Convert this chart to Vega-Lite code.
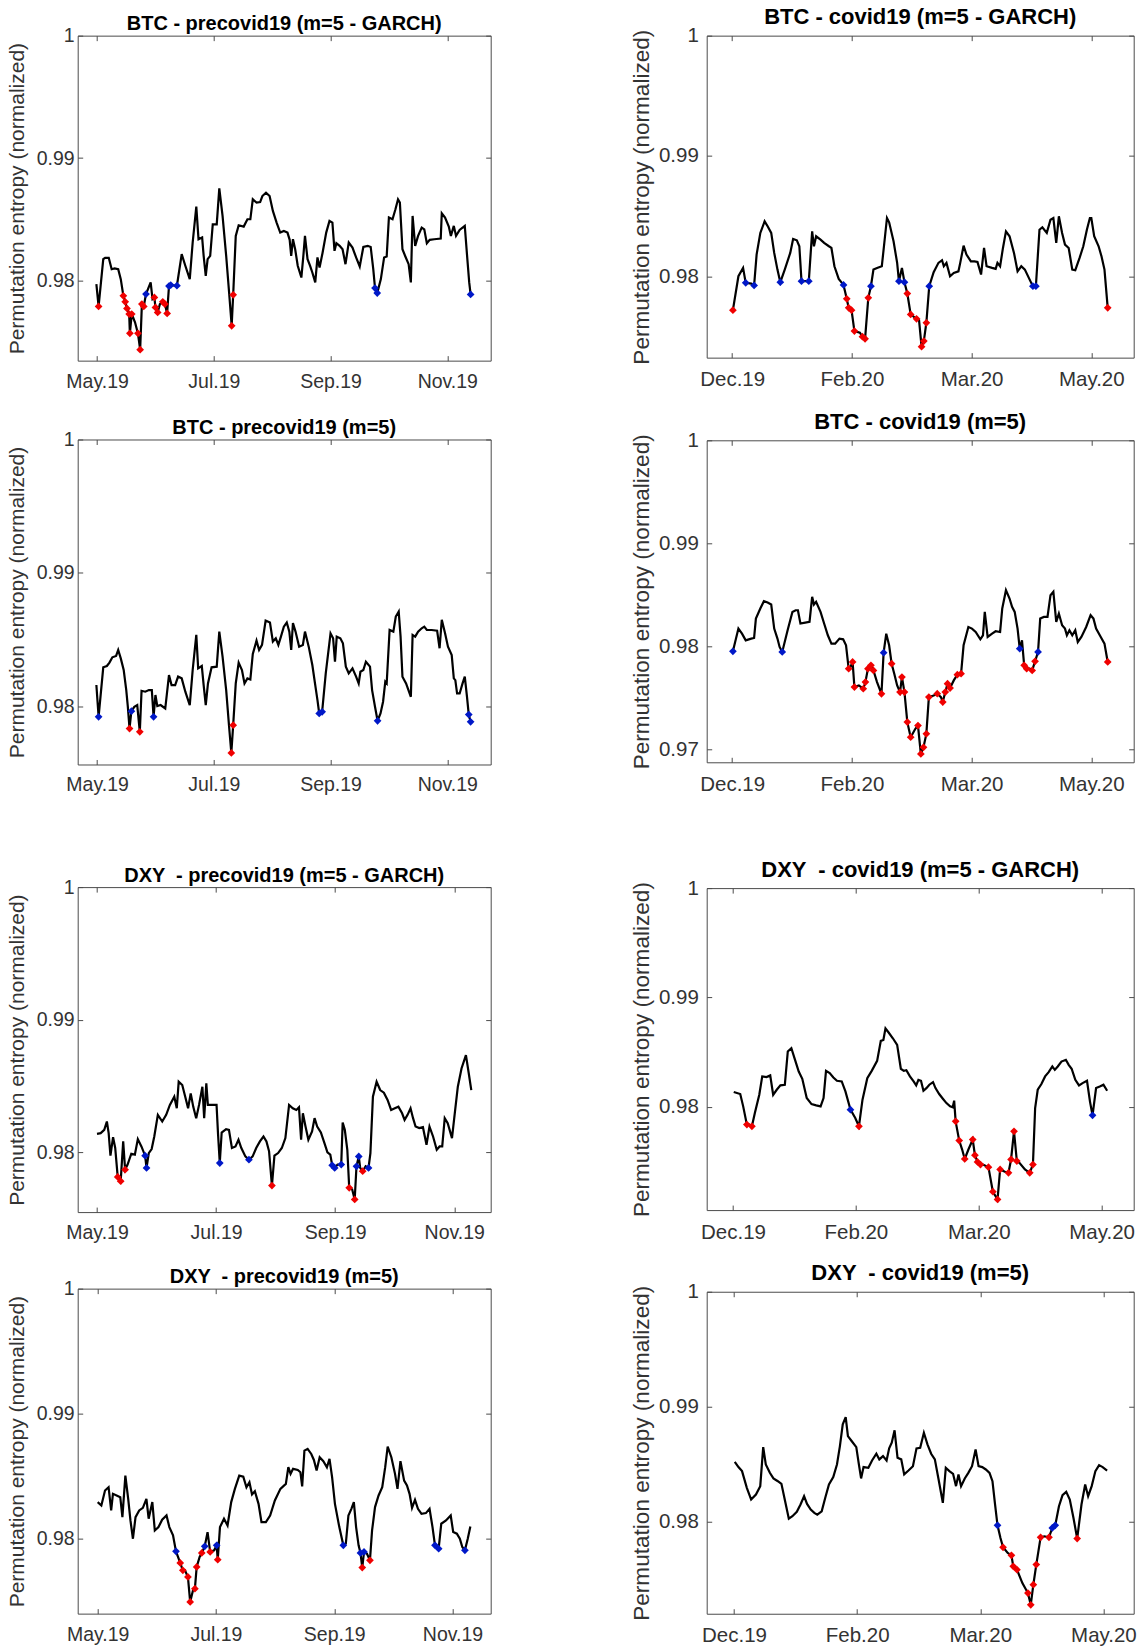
{
"$schema": "https://vega.github.io/schema/vega-lite/v6.json",
"background": "white",
"padding": {"left": 5.7, "top": 5.65, "right": 2, "bottom": 2},
"spacing": 137,
"datasets": {
"lines": [
{"p":1,"x":-0.006,"y":0.9797},{"p":1,"x":0.013,"y":0.97788},{"p":1,"x":0.053,"y":0.98174},{"p":1,"x":0.069,"y":0.98185},{"p":1,"x":0.1,"y":0.98185},{"p":1,"x":0.125,"y":0.98092},{"p":1,"x":0.15,"y":0.98098},{"p":1,"x":0.181,"y":0.98092},{"p":1,"x":0.203,"y":0.98011},{"p":1,"x":0.225,"y":0.97875},{"p":1,"x":0.241,"y":0.97826},{"p":1,"x":0.256,"y":0.97772},{"p":1,"x":0.275,"y":0.97726},{"p":1,"x":0.281,"y":0.97568},{"p":1,"x":0.297,"y":0.97726},{"p":1,"x":0.325,"y":0.97658},{"p":1,"x":0.35,"y":0.97568},{"p":1,"x":0.369,"y":0.97435},{"p":1,"x":0.384,"y":0.97807},{"p":1,"x":0.4,"y":0.97788},{"p":1,"x":0.419,"y":0.97889},{"p":1,"x":0.459,"y":0.97984},{"p":1,"x":0.475,"y":0.97848},{"p":1,"x":0.491,"y":0.97861},{"p":1,"x":0.5,"y":0.9778},{"p":1,"x":0.519,"y":0.97739},{"p":1,"x":0.538,"y":0.97807},{"p":1,"x":0.563,"y":0.97826},{"p":1,"x":0.581,"y":0.97807},{"p":1,"x":0.6,"y":0.97731},{"p":1,"x":0.616,"y":0.97954},{"p":1,"x":0.631,"y":0.97962},{"p":1,"x":0.684,"y":0.97957},{"p":1,"x":0.725,"y":0.98215},{"p":1,"x":0.756,"y":0.9812},{"p":1,"x":0.794,"y":0.98011},{"p":1,"x":0.819,"y":0.9831},{"p":1,"x":0.85,"y":0.98603},{"p":1,"x":0.869,"y":0.98337},{"p":1,"x":0.9,"y":0.98351},{"p":1,"x":0.913,"y":0.98201},{"p":1,"x":0.931,"y":0.98038},{"p":1,"x":0.947,"y":0.98174},{"p":1,"x":0.969,"y":0.98201},{"p":1,"x":0.991,"y":0.98459},{"p":1,"x":1.025,"y":0.98459},{"p":1,"x":1.047,"y":0.98753},{"p":1,"x":1.075,"y":0.98527},{"p":1,"x":1.106,"y":0.98201},{"p":1,"x":1.131,"y":0.97902},{"p":1,"x":1.153,"y":0.9763},{"p":1,"x":1.166,"y":0.97883},{"p":1,"x":1.188,"y":0.98364},{"p":1,"x":1.213,"y":0.98451},{"p":1,"x":1.256,"y":0.9844},{"p":1,"x":1.288,"y":0.985},{"p":1,"x":1.313,"y":0.985},{"p":1,"x":1.334,"y":0.98663},{"p":1,"x":1.366,"y":0.98636},{"p":1,"x":1.397,"y":0.98641},{"p":1,"x":1.416,"y":0.9869},{"p":1,"x":1.447,"y":0.98717},{"p":1,"x":1.478,"y":0.9869},{"p":1,"x":1.506,"y":0.98568},{"p":1,"x":1.538,"y":0.98473},{"p":1,"x":1.569,"y":0.98391},{"p":1,"x":1.6,"y":0.98405},{"p":1,"x":1.631,"y":0.98391},{"p":1,"x":1.65,"y":0.98332},{"p":1,"x":1.663,"y":0.98201},{"p":1,"x":1.678,"y":0.98337},{"p":1,"x":1.697,"y":0.98255},{"p":1,"x":1.719,"y":0.9812},{"p":1,"x":1.75,"y":0.98024},{"p":1,"x":1.766,"y":0.98188},{"p":1,"x":1.781,"y":0.98364},{"p":1,"x":1.803,"y":0.98174},{"p":1,"x":1.825,"y":0.9812},{"p":1,"x":1.844,"y":0.98065},{"p":1,"x":1.869,"y":0.97984},{"p":1,"x":1.888,"y":0.98188},{"p":1,"x":1.906,"y":0.98106},{"p":1,"x":1.931,"y":0.98223},{"p":1,"x":1.963,"y":0.98391},{"p":1,"x":1.991,"y":0.98486},{"p":1,"x":2.016,"y":0.98473},{"p":1,"x":2.034,"y":0.98242},{"p":1,"x":2.05,"y":0.98304},{"p":1,"x":2.078,"y":0.98283},{"p":1,"x":2.103,"y":0.98255},{"p":1,"x":2.128,"y":0.98133},{"p":1,"x":2.156,"y":0.9831},{"p":1,"x":2.188,"y":0.98269},{"p":1,"x":2.219,"y":0.98188},{"p":1,"x":2.25,"y":0.98114},{"p":1,"x":2.281,"y":0.98274},{"p":1,"x":2.319,"y":0.98283},{"p":1,"x":2.344,"y":0.98274},{"p":1,"x":2.366,"y":0.98092},{"p":1,"x":2.381,"y":0.97938},{"p":1,"x":2.4,"y":0.97897},{"p":1,"x":2.431,"y":0.98011},{"p":1,"x":2.459,"y":0.98188},{"p":1,"x":2.481,"y":0.98196},{"p":1,"x":2.5,"y":0.98514},{"p":1,"x":2.531,"y":0.985},{"p":1,"x":2.556,"y":0.98582},{"p":1,"x":2.578,"y":0.98663},{"p":1,"x":2.594,"y":0.98636},{"p":1,"x":2.616,"y":0.98255},{"p":1,"x":2.641,"y":0.98196},{"p":1,"x":2.669,"y":0.98133},{"p":1,"x":2.688,"y":0.97984},{"p":1,"x":2.703,"y":0.98527},{"p":1,"x":2.725,"y":0.98283},{"p":1,"x":2.75,"y":0.98364},{"p":1,"x":2.781,"y":0.98432},{"p":1,"x":2.803,"y":0.98418},{"p":1,"x":2.825,"y":0.98304},{"p":1,"x":2.85,"y":0.98332},{"p":1,"x":2.888,"y":0.98337},{"p":1,"x":2.944,"y":0.98342},{"p":1,"x":2.953,"y":0.98549},{"p":1,"x":2.981,"y":0.98514},{"p":1,"x":3.013,"y":0.9844},{"p":1,"x":3.031,"y":0.98364},{"p":1,"x":3.056,"y":0.98446},{"p":1,"x":3.075,"y":0.98364},{"p":1,"x":3.106,"y":0.98413},{"p":1,"x":3.15,"y":0.98446},{"p":1,"x":3.172,"y":0.98174},{"p":1,"x":3.188,"y":0.97984},{"p":1,"x":3.2,"y":0.97886},
{"p":2,"x":0.006,"y":0.97718},{"p":2,"x":0.052,"y":0.98},{"p":2,"x":0.091,"y":0.98069},{"p":2,"x":0.113,"y":0.97945},{"p":2,"x":0.159,"y":0.97939},{"p":2,"x":0.183,"y":0.97923},{"p":2,"x":0.204,"y":0.9818},{"p":2,"x":0.235,"y":0.9836},{"p":2,"x":0.271,"y":0.98456},{"p":2,"x":0.296,"y":0.98415},{"p":2,"x":0.326,"y":0.9836},{"p":2,"x":0.351,"y":0.98194},{"p":2,"x":0.378,"y":0.98055},{"p":2,"x":0.402,"y":0.9795},{"p":2,"x":0.439,"y":0.98055},{"p":2,"x":0.485,"y":0.98194},{"p":2,"x":0.509,"y":0.9831},{"p":2,"x":0.54,"y":0.98299},{"p":2,"x":0.561,"y":0.98249},{"p":2,"x":0.579,"y":0.97959},{"p":2,"x":0.616,"y":0.97959},{"p":2,"x":0.64,"y":0.97959},{"p":2,"x":0.668,"y":0.98373},{"p":2,"x":0.683,"y":0.98249},{"p":2,"x":0.701,"y":0.98332},{"p":2,"x":0.738,"y":0.98304},{"p":2,"x":0.768,"y":0.98277},{"p":2,"x":0.808,"y":0.98249},{"p":2,"x":0.829,"y":0.98235},{"p":2,"x":0.854,"y":0.98083},{"p":2,"x":0.89,"y":0.97978},{"p":2,"x":0.93,"y":0.97928},{"p":2,"x":0.957,"y":0.97812},{"p":2,"x":0.973,"y":0.97737},{"p":2,"x":0.997,"y":0.97718},{"p":2,"x":1.021,"y":0.97544},{"p":2,"x":1.067,"y":0.9753},{"p":2,"x":1.088,"y":0.97497},{"p":2,"x":1.11,"y":0.9748},{"p":2,"x":1.137,"y":0.9782},{"p":2,"x":1.159,"y":0.97917},{"p":2,"x":1.18,"y":0.98055},{"p":2,"x":1.21,"y":0.98069},{"p":2,"x":1.25,"y":0.98083},{"p":2,"x":1.293,"y":0.98484},{"p":2,"x":1.311,"y":0.98448},{"p":2,"x":1.348,"y":0.9829},{"p":2,"x":1.378,"y":0.98111},{"p":2,"x":1.393,"y":0.97959},{"p":2,"x":1.418,"y":0.98069},{"p":2,"x":1.439,"y":0.9795},{"p":2,"x":1.463,"y":0.97856},{"p":2,"x":1.491,"y":0.97682},{"p":2,"x":1.54,"y":0.97646},{"p":2,"x":1.561,"y":0.97635},{"p":2,"x":1.582,"y":0.97414},{"p":2,"x":1.601,"y":0.97461},{"p":2,"x":1.622,"y":0.97613},{"p":2,"x":1.646,"y":0.97917},{"p":2,"x":1.683,"y":0.98033},{"p":2,"x":1.723,"y":0.98111},{"p":2,"x":1.753,"y":0.98133},{"p":2,"x":1.768,"y":0.98083},{"p":2,"x":1.79,"y":0.98111},{"p":2,"x":1.82,"y":0.98},{"p":2,"x":1.851,"y":0.98028},{"p":2,"x":1.89,"y":0.98041},{"p":2,"x":1.905,"y":0.98111},{"p":2,"x":1.933,"y":0.98254},{"p":2,"x":1.957,"y":0.9818},{"p":2,"x":1.994,"y":0.98124},{"p":2,"x":2.024,"y":0.98124},{"p":2,"x":2.049,"y":0.98119},{"p":2,"x":2.079,"y":0.98014},{"p":2,"x":2.104,"y":0.98235},{"p":2,"x":2.125,"y":0.98083},{"p":2,"x":2.171,"y":0.98069},{"p":2,"x":2.201,"y":0.98061},{"p":2,"x":2.216,"y":0.98111},{"p":2,"x":2.238,"y":0.98083},{"p":2,"x":2.262,"y":0.98235},{"p":2,"x":2.287,"y":0.98373},{"p":2,"x":2.317,"y":0.98332},{"p":2,"x":2.354,"y":0.98194},{"p":2,"x":2.384,"y":0.98041},{"p":2,"x":2.415,"y":0.98083},{"p":2,"x":2.445,"y":0.98055},{"p":2,"x":2.491,"y":0.97959},{"p":2,"x":2.512,"y":0.97917},{"p":2,"x":2.537,"y":0.97917},{"p":2,"x":2.567,"y":0.98387},{"p":2,"x":2.591,"y":0.98407},{"p":2,"x":2.628,"y":0.9836},{"p":2,"x":2.659,"y":0.9847},{"p":2,"x":2.683,"y":0.98484},{"p":2,"x":2.707,"y":0.98277},{"p":2,"x":2.729,"y":0.98498},{"p":2,"x":2.756,"y":0.9836},{"p":2,"x":2.78,"y":0.98263},{"p":2,"x":2.811,"y":0.98235},{"p":2,"x":2.841,"y":0.98055},{"p":2,"x":2.866,"y":0.9805},{"p":2,"x":2.902,"y":0.98152},{"p":2,"x":2.933,"y":0.98249},{"p":2,"x":2.963,"y":0.98387},{"p":2,"x":2.988,"y":0.98484},{"p":2,"x":3.0,"y":0.98484},{"p":2,"x":3.024,"y":0.98332},{"p":2,"x":3.061,"y":0.98249},{"p":2,"x":3.085,"y":0.98166},{"p":2,"x":3.11,"y":0.98055},{"p":2,"x":3.137,"y":0.97737},
{"p":3,"x":-0.006,"y":0.98158},{"p":3,"x":0.013,"y":0.9792},{"p":3,"x":0.053,"y":0.98291},{"p":3,"x":0.084,"y":0.98301},{"p":3,"x":0.106,"y":0.98326},{"p":3,"x":0.131,"y":0.98366},{"p":3,"x":0.163,"y":0.98376},{"p":3,"x":0.181,"y":0.98421},{"p":3,"x":0.203,"y":0.98358},{"p":3,"x":0.228,"y":0.98271},{"p":3,"x":0.25,"y":0.9812},{"p":3,"x":0.263,"y":0.98},{"p":3,"x":0.278,"y":0.97832},{"p":3,"x":0.294,"y":0.97962},{"p":3,"x":0.319,"y":0.97995},{"p":3,"x":0.344,"y":0.98008},{"p":3,"x":0.366,"y":0.97807},{"p":3,"x":0.381,"y":0.98115},{"p":3,"x":0.413,"y":0.98108},{"p":3,"x":0.444,"y":0.9812},{"p":3,"x":0.469,"y":0.9812},{"p":3,"x":0.484,"y":0.9792},{"p":3,"x":0.5,"y":0.98083},{"p":3,"x":0.516,"y":0.98},{"p":3,"x":0.544,"y":0.98008},{"p":3,"x":0.584,"y":0.97982},{"p":3,"x":0.616,"y":0.98233},{"p":3,"x":0.638,"y":0.98158},{"p":3,"x":0.669,"y":0.98158},{"p":3,"x":0.694,"y":0.98221},{"p":3,"x":0.725,"y":0.98208},{"p":3,"x":0.756,"y":0.98108},{"p":3,"x":0.794,"y":0.98008},{"p":3,"x":0.819,"y":0.98271},{"p":3,"x":0.85,"y":0.98534},{"p":3,"x":0.866,"y":0.98283},{"p":3,"x":0.897,"y":0.98301},{"p":3,"x":0.913,"y":0.98158},{"p":3,"x":0.931,"y":0.98008},{"p":3,"x":0.95,"y":0.9817},{"p":3,"x":0.981,"y":0.98291},{"p":3,"x":1.025,"y":0.98296},{"p":3,"x":1.047,"y":0.98559},{"p":3,"x":1.075,"y":0.98371},{"p":3,"x":1.106,"y":0.9812},{"p":3,"x":1.131,"y":0.97845},{"p":3,"x":1.15,"y":0.97649},{"p":3,"x":1.166,"y":0.97857},{"p":3,"x":1.188,"y":0.9817},{"p":3,"x":1.213,"y":0.98326},{"p":3,"x":1.241,"y":0.98271},{"p":3,"x":1.263,"y":0.9817},{"p":3,"x":1.288,"y":0.98208},{"p":3,"x":1.313,"y":0.982},{"p":3,"x":1.334,"y":0.98391},{"p":3,"x":1.366,"y":0.98491},{"p":3,"x":1.388,"y":0.98421},{"p":3,"x":1.413,"y":0.98459},{"p":3,"x":1.444,"y":0.98642},{"p":3,"x":1.481,"y":0.98627},{"p":3,"x":1.506,"y":0.98484},{"p":3,"x":1.531,"y":0.98509},{"p":3,"x":1.553,"y":0.98459},{"p":3,"x":1.575,"y":0.98521},{"p":3,"x":1.6,"y":0.98596},{"p":3,"x":1.625,"y":0.98627},{"p":3,"x":1.647,"y":0.98559},{"p":3,"x":1.663,"y":0.98421},{"p":3,"x":1.678,"y":0.98622},{"p":3,"x":1.7,"y":0.98559},{"p":3,"x":1.731,"y":0.98446},{"p":3,"x":1.763,"y":0.98459},{"p":3,"x":1.781,"y":0.98559},{"p":3,"x":1.813,"y":0.98446},{"p":3,"x":1.844,"y":0.98308},{"p":3,"x":1.869,"y":0.98158},{"p":3,"x":1.888,"y":0.98045},{"p":3,"x":1.903,"y":0.97945},{"p":3,"x":1.928,"y":0.97957},{"p":3,"x":1.959,"y":0.98246},{"p":3,"x":2.0,"y":0.98546},{"p":3,"x":2.022,"y":0.98509},{"p":3,"x":2.038,"y":0.98333},{"p":3,"x":2.053,"y":0.98521},{"p":3,"x":2.084,"y":0.98509},{"p":3,"x":2.106,"y":0.98471},{"p":3,"x":2.131,"y":0.98296},{"p":3,"x":2.156,"y":0.98246},{"p":3,"x":2.188,"y":0.98283},{"p":3,"x":2.219,"y":0.98221},{"p":3,"x":2.241,"y":0.9817},{"p":3,"x":2.256,"y":0.98258},{"p":3,"x":2.281,"y":0.98271},{"p":3,"x":2.303,"y":0.98333},{"p":3,"x":2.338,"y":0.98296},{"p":3,"x":2.356,"y":0.9812},{"p":3,"x":2.381,"y":0.97995},{"p":3,"x":2.403,"y":0.9789},{"p":3,"x":2.428,"y":0.97945},{"p":3,"x":2.45,"y":0.98033},{"p":3,"x":2.469,"y":0.98183},{"p":3,"x":2.481,"y":0.9817},{"p":3,"x":2.506,"y":0.98571},{"p":3,"x":2.538,"y":0.98559},{"p":3,"x":2.559,"y":0.98672},{"p":3,"x":2.584,"y":0.98709},{"p":3,"x":2.6,"y":0.98521},{"p":3,"x":2.616,"y":0.98221},{"p":3,"x":2.647,"y":0.9817},{"p":3,"x":2.688,"y":0.9807},{"p":3,"x":2.703,"y":0.98534},{"p":3,"x":2.725,"y":0.98521},{"p":3,"x":2.75,"y":0.98559},{"p":3,"x":2.781,"y":0.98584},{"p":3,"x":2.803,"y":0.98596},{"p":3,"x":2.825,"y":0.98571},{"p":3,"x":2.866,"y":0.98571},{"p":3,"x":2.913,"y":0.98566},{"p":3,"x":2.934,"y":0.98434},{"p":3,"x":2.953,"y":0.98647},{"p":3,"x":2.981,"y":0.98546},{"p":3,"x":3.006,"y":0.98446},{"p":3,"x":3.038,"y":0.98383},{"p":3,"x":3.056,"y":0.98208},{"p":3,"x":3.069,"y":0.98195},{"p":3,"x":3.084,"y":0.98095},{"p":3,"x":3.106,"y":0.98095},{"p":3,"x":3.131,"y":0.9817},{"p":3,"x":3.15,"y":0.98221},{"p":3,"x":3.169,"y":0.9807},{"p":3,"x":3.184,"y":0.97937},{"p":3,"x":3.2,"y":0.97882},
{"p":4,"x":0.006,"y":0.97951},{"p":4,"x":0.052,"y":0.98172},{"p":4,"x":0.082,"y":0.98123},{"p":4,"x":0.113,"y":0.98058},{"p":4,"x":0.159,"y":0.98075},{"p":4,"x":0.183,"y":0.98081},{"p":4,"x":0.198,"y":0.98269},{"p":4,"x":0.235,"y":0.98367},{"p":4,"x":0.265,"y":0.98438},{"p":4,"x":0.296,"y":0.98425},{"p":4,"x":0.326,"y":0.98406},{"p":4,"x":0.351,"y":0.98172},{"p":4,"x":0.378,"y":0.98075},{"p":4,"x":0.396,"y":0.97994},{"p":4,"x":0.418,"y":0.97945},{"p":4,"x":0.463,"y":0.98156},{"p":4,"x":0.503,"y":0.98334},{"p":4,"x":0.53,"y":0.9835},{"p":4,"x":0.549,"y":0.9835},{"p":4,"x":0.57,"y":0.98221},{"p":4,"x":0.61,"y":0.9823},{"p":4,"x":0.646,"y":0.98237},{"p":4,"x":0.668,"y":0.9848},{"p":4,"x":0.683,"y":0.98406},{"p":4,"x":0.701,"y":0.98431},{"p":4,"x":0.738,"y":0.98334},{"p":4,"x":0.768,"y":0.98221},{"p":4,"x":0.799,"y":0.98107},{"p":4,"x":0.829,"y":0.98026},{"p":4,"x":0.86,"y":0.98026},{"p":4,"x":0.896,"y":0.98075},{"p":4,"x":0.927,"y":0.98068},{"p":4,"x":0.951,"y":0.9801},{"p":4,"x":0.973,"y":0.97783},{"p":4,"x":0.988,"y":0.97799},{"p":4,"x":1.006,"y":0.97848},{"p":4,"x":1.021,"y":0.97604},{"p":4,"x":1.058,"y":0.9762},{"p":4,"x":1.095,"y":0.97588},{"p":4,"x":1.113,"y":0.97653},{"p":4,"x":1.134,"y":0.97783},{"p":4,"x":1.159,"y":0.97815},{"p":4,"x":1.18,"y":0.97766},{"p":4,"x":1.21,"y":0.97653},{"p":4,"x":1.247,"y":0.97539},{"p":4,"x":1.265,"y":0.97938},{"p":4,"x":1.287,"y":0.98123},{"p":4,"x":1.311,"y":0.9801},{"p":4,"x":1.332,"y":0.97831},{"p":4,"x":1.354,"y":0.97734},{"p":4,"x":1.378,"y":0.9762},{"p":4,"x":1.402,"y":0.97556},{"p":4,"x":1.418,"y":0.97702},{"p":4,"x":1.439,"y":0.97556},{"p":4,"x":1.463,"y":0.97264},{"p":4,"x":1.491,"y":0.97118},{"p":4,"x":1.53,"y":0.97199},{"p":4,"x":1.552,"y":0.97231},{"p":4,"x":1.576,"y":0.96955},{"p":4,"x":1.598,"y":0.9702},{"p":4,"x":1.622,"y":0.9715},{"p":4,"x":1.643,"y":0.97507},{"p":4,"x":1.683,"y":0.97523},{"p":4,"x":1.713,"y":0.9754},{"p":4,"x":1.744,"y":0.97507},{"p":4,"x":1.759,"y":0.97459},{"p":4,"x":1.78,"y":0.97556},{"p":4,"x":1.799,"y":0.97637},{"p":4,"x":1.82,"y":0.97595},{"p":4,"x":1.851,"y":0.97669},{"p":4,"x":1.881,"y":0.97724},{"p":4,"x":1.912,"y":0.97734},{"p":4,"x":1.933,"y":0.9801},{"p":4,"x":1.973,"y":0.98188},{"p":4,"x":2.003,"y":0.98172},{"p":4,"x":2.034,"y":0.98139},{"p":4,"x":2.073,"y":0.98068},{"p":4,"x":2.095,"y":0.98107},{"p":4,"x":2.11,"y":0.98334},{"p":4,"x":2.134,"y":0.98091},{"p":4,"x":2.171,"y":0.98123},{"p":4,"x":2.201,"y":0.98146},{"p":4,"x":2.238,"y":0.98139},{"p":4,"x":2.256,"y":0.98367},{"p":4,"x":2.287,"y":0.98545},{"p":4,"x":2.317,"y":0.98464},{"p":4,"x":2.338,"y":0.98383},{"p":4,"x":2.36,"y":0.98334},{"p":4,"x":2.384,"y":0.98172},{"p":4,"x":2.402,"y":0.97977},{"p":4,"x":2.421,"y":0.98058},{"p":4,"x":2.439,"y":0.97815},{"p":4,"x":2.46,"y":0.97783},{"p":4,"x":2.485,"y":0.97783},{"p":4,"x":2.506,"y":0.97766},{"p":4,"x":2.53,"y":0.97854},{"p":4,"x":2.555,"y":0.97945},{"p":4,"x":2.573,"y":0.98269},{"p":4,"x":2.604,"y":0.98285},{"p":4,"x":2.634,"y":0.98285},{"p":4,"x":2.659,"y":0.98496},{"p":4,"x":2.683,"y":0.98529},{"p":4,"x":2.707,"y":0.98237},{"p":4,"x":2.729,"y":0.98318},{"p":4,"x":2.756,"y":0.98204},{"p":4,"x":2.78,"y":0.98172},{"p":4,"x":2.796,"y":0.98107},{"p":4,"x":2.817,"y":0.98156},{"p":4,"x":2.841,"y":0.98107},{"p":4,"x":2.866,"y":0.98156},{"p":4,"x":2.887,"y":0.98042},{"p":4,"x":2.917,"y":0.98091},{"p":4,"x":2.957,"y":0.98188},{"p":4,"x":2.994,"y":0.98302},{"p":4,"x":3.018,"y":0.98269},{"p":4,"x":3.04,"y":0.98172},{"p":4,"x":3.079,"y":0.98091},{"p":4,"x":3.11,"y":0.98026},{"p":4,"x":3.137,"y":0.97848},
{"p":5,"x":0.0,"y":0.9814},{"p":5,"x":0.031,"y":0.98145},{"p":5,"x":0.061,"y":0.9817},{"p":5,"x":0.083,"y":0.98233},{"p":5,"x":0.098,"y":0.98145},{"p":5,"x":0.113,"y":0.97975},{"p":5,"x":0.135,"y":0.98115},{"p":5,"x":0.153,"y":0.98033},{"p":5,"x":0.174,"y":0.97815},{"p":5,"x":0.199,"y":0.97783},{"p":5,"x":0.22,"y":0.98083},{"p":5,"x":0.236,"y":0.9787},{"p":5,"x":0.257,"y":0.97908},{"p":5,"x":0.288,"y":0.9799},{"p":5,"x":0.318,"y":0.97983},{"p":5,"x":0.343,"y":0.981},{"p":5,"x":0.373,"y":0.98045},{"p":5,"x":0.404,"y":0.97975},{"p":5,"x":0.416,"y":0.97883},{"p":5,"x":0.435,"y":0.97995},{"p":5,"x":0.459,"y":0.98025},{"p":5,"x":0.481,"y":0.9812},{"p":5,"x":0.511,"y":0.98283},{"p":5,"x":0.548,"y":0.98233},{"p":5,"x":0.581,"y":0.98283},{"p":5,"x":0.612,"y":0.98358},{"p":5,"x":0.649,"y":0.9842},{"p":5,"x":0.67,"y":0.98333},{"p":5,"x":0.686,"y":0.98533},{"p":5,"x":0.716,"y":0.98508},{"p":5,"x":0.741,"y":0.9842},{"p":5,"x":0.765,"y":0.98333},{"p":5,"x":0.787,"y":0.98445},{"p":5,"x":0.808,"y":0.98345},{"p":5,"x":0.833,"y":0.98258},{"p":5,"x":0.857,"y":0.98358},{"p":5,"x":0.885,"y":0.98495},{"p":5,"x":0.9,"y":0.98258},{"p":5,"x":0.918,"y":0.9852},{"p":5,"x":0.931,"y":0.98358},{"p":5,"x":0.97,"y":0.98358},{"p":5,"x":1.004,"y":0.98358},{"p":5,"x":1.016,"y":0.98145},{"p":5,"x":1.031,"y":0.9792},{"p":5,"x":1.047,"y":0.9815},{"p":5,"x":1.084,"y":0.98175},{"p":5,"x":1.108,"y":0.9817},{"p":5,"x":1.133,"y":0.98033},{"p":5,"x":1.163,"y":0.98045},{"p":5,"x":1.188,"y":0.98095},{"p":5,"x":1.212,"y":0.98033},{"p":5,"x":1.246,"y":0.9797},{"p":5,"x":1.276,"y":0.97945},{"p":5,"x":1.307,"y":0.9797},{"p":5,"x":1.337,"y":0.98033},{"p":5,"x":1.368,"y":0.98083},{"p":5,"x":1.398,"y":0.9812},{"p":5,"x":1.423,"y":0.98083},{"p":5,"x":1.445,"y":0.98008},{"p":5,"x":1.469,"y":0.9775},{"p":5,"x":1.49,"y":0.97975},{"p":5,"x":1.521,"y":0.97995},{"p":5,"x":1.552,"y":0.98033},{"p":5,"x":1.582,"y":0.98108},{"p":5,"x":1.613,"y":0.98358},{"p":5,"x":1.644,"y":0.98333},{"p":5,"x":1.674,"y":0.9832},{"p":5,"x":1.696,"y":0.9834},{"p":5,"x":1.714,"y":0.98095},{"p":5,"x":1.729,"y":0.98295},{"p":5,"x":1.751,"y":0.98195},{"p":5,"x":1.775,"y":0.98095},{"p":5,"x":1.806,"y":0.98158},{"p":5,"x":1.827,"y":0.98258},{"p":5,"x":1.849,"y":0.98195},{"p":5,"x":1.88,"y":0.9815},{"p":5,"x":1.91,"y":0.9807},{"p":5,"x":1.935,"y":0.98},{"p":5,"x":1.959,"y":0.97983},{"p":5,"x":1.975,"y":0.97903},{"p":5,"x":1.996,"y":0.97883},{"p":5,"x":2.02,"y":0.97908},{"p":5,"x":2.051,"y":0.97908},{"p":5,"x":2.063,"y":0.98225},{"p":5,"x":2.081,"y":0.9817},{"p":5,"x":2.102,"y":0.9802},{"p":5,"x":2.118,"y":0.97733},{"p":5,"x":2.143,"y":0.9772},{"p":5,"x":2.164,"y":0.97645},{"p":5,"x":2.179,"y":0.97895},{"p":5,"x":2.198,"y":0.9797},{"p":5,"x":2.21,"y":0.97883},{"p":5,"x":2.231,"y":0.97858},{"p":5,"x":2.256,"y":0.97895},{"p":5,"x":2.28,"y":0.97883},{"p":5,"x":2.296,"y":0.97995},{"p":5,"x":2.317,"y":0.9842},{"p":5,"x":2.348,"y":0.98533},{"p":5,"x":2.378,"y":0.9847},{"p":5,"x":2.409,"y":0.9845},{"p":5,"x":2.44,"y":0.98395},{"p":5,"x":2.47,"y":0.9832},{"p":5,"x":2.501,"y":0.98333},{"p":5,"x":2.531,"y":0.98345},{"p":5,"x":2.562,"y":0.98295},{"p":5,"x":2.583,"y":0.98245},{"p":5,"x":2.608,"y":0.98283},{"p":5,"x":2.633,"y":0.98333},{"p":5,"x":2.654,"y":0.98258},{"p":5,"x":2.675,"y":0.98195},{"p":5,"x":2.706,"y":0.98183},{"p":5,"x":2.737,"y":0.9819},{"p":5,"x":2.767,"y":0.98058},{"p":5,"x":2.792,"y":0.98195},{"p":5,"x":2.822,"y":0.9812},{"p":5,"x":2.853,"y":0.9802},{"p":5,"x":2.877,"y":0.98045},{"p":5,"x":2.899,"y":0.98045},{"p":5,"x":2.92,"y":0.98258},{"p":5,"x":2.945,"y":0.9822},{"p":5,"x":2.981,"y":0.98108},{"p":5,"x":3.006,"y":0.98308},{"p":5,"x":3.03,"y":0.98495},{"p":5,"x":3.061,"y":0.98633},{"p":5,"x":3.098,"y":0.98733},{"p":5,"x":3.122,"y":0.98595},{"p":5,"x":3.143,"y":0.9847},
{"p":6,"x":0.006,"y":0.98134},{"p":6,"x":0.059,"y":0.98116},{"p":6,"x":0.083,"y":0.98003},{"p":6,"x":0.113,"y":0.97836},{"p":6,"x":0.134,"y":0.97836},{"p":6,"x":0.154,"y":0.97821},{"p":6,"x":0.178,"y":0.97942},{"p":6,"x":0.214,"y":0.98109},{"p":6,"x":0.238,"y":0.98277},{"p":6,"x":0.273,"y":0.98271},{"p":6,"x":0.303,"y":0.98286},{"p":6,"x":0.327,"y":0.98109},{"p":6,"x":0.356,"y":0.98155},{"p":6,"x":0.386,"y":0.98195},{"p":6,"x":0.422,"y":0.98201},{"p":6,"x":0.446,"y":0.98505},{"p":6,"x":0.475,"y":0.98535},{"p":6,"x":0.505,"y":0.98429},{"p":6,"x":0.535,"y":0.98322},{"p":6,"x":0.564,"y":0.98255},{"p":6,"x":0.6,"y":0.98079},{"p":6,"x":0.639,"y":0.98024},{"p":6,"x":0.677,"y":0.98012},{"p":6,"x":0.713,"y":0.98003},{"p":6,"x":0.737,"y":0.98079},{"p":6,"x":0.757,"y":0.98328},{"p":6,"x":0.787,"y":0.98307},{"p":6,"x":0.817,"y":0.98267},{"p":6,"x":0.846,"y":0.98237},{"p":6,"x":0.885,"y":0.98231},{"p":6,"x":0.915,"y":0.9814},{"p":6,"x":0.956,"y":0.97973},{"p":6,"x":0.995,"y":0.97897},{"p":6,"x":1.025,"y":0.97821},{"p":6,"x":1.054,"y":0.98064},{"p":6,"x":1.093,"y":0.98261},{"p":6,"x":1.129,"y":0.98328},{"p":6,"x":1.173,"y":0.98419},{"p":6,"x":1.203,"y":0.98602},{"p":6,"x":1.224,"y":0.98611},{"p":6,"x":1.241,"y":0.98717},{"p":6,"x":1.265,"y":0.98681},{"p":6,"x":1.301,"y":0.98626},{"p":6,"x":1.336,"y":0.98565},{"p":6,"x":1.366,"y":0.98347},{"p":6,"x":1.39,"y":0.98328},{"p":6,"x":1.411,"y":0.98334},{"p":6,"x":1.44,"y":0.98277},{"p":6,"x":1.47,"y":0.98231},{"p":6,"x":1.491,"y":0.98195},{"p":6,"x":1.509,"y":0.98246},{"p":6,"x":1.53,"y":0.98237},{"p":6,"x":1.55,"y":0.98146},{"p":6,"x":1.574,"y":0.9817},{"p":6,"x":1.598,"y":0.98201},{"p":6,"x":1.628,"y":0.98225},{"p":6,"x":1.648,"y":0.9817},{"p":6,"x":1.678,"y":0.98116},{"p":6,"x":1.708,"y":0.98073},{"p":6,"x":1.737,"y":0.98033},{"p":6,"x":1.767,"y":0.98003},{"p":6,"x":1.788,"y":0.97994},{"p":6,"x":1.8,"y":0.98055},{"p":6,"x":1.812,"y":0.97866},{"p":6,"x":1.841,"y":0.9769},{"p":6,"x":1.865,"y":0.97608},{"p":6,"x":1.886,"y":0.97522},{"p":6,"x":1.916,"y":0.97608},{"p":6,"x":1.951,"y":0.97699},{"p":6,"x":1.969,"y":0.97556},{"p":6,"x":1.99,"y":0.97495},{"p":6,"x":2.014,"y":0.97471},{"p":6,"x":2.034,"y":0.97471},{"p":6,"x":2.079,"y":0.97447},{"p":6,"x":2.115,"y":0.97222},{"p":6,"x":2.153,"y":0.97152},{"p":6,"x":2.174,"y":0.97426},{"p":6,"x":2.213,"y":0.97404},{"p":6,"x":2.242,"y":0.97395},{"p":6,"x":2.263,"y":0.97517},{"p":6,"x":2.287,"y":0.97775},{"p":6,"x":2.31,"y":0.97502},{"p":6,"x":2.331,"y":0.97486},{"p":6,"x":2.376,"y":0.97426},{"p":6,"x":2.415,"y":0.97395},{"p":6,"x":2.441,"y":0.97471},{"p":6,"x":2.459,"y":0.97988},{"p":6,"x":2.48,"y":0.98155},{"p":6,"x":2.51,"y":0.98207},{"p":6,"x":2.54,"y":0.98277},{"p":6,"x":2.569,"y":0.98316},{"p":6,"x":2.599,"y":0.98368},{"p":6,"x":2.619,"y":0.98337},{"p":6,"x":2.643,"y":0.98368},{"p":6,"x":2.673,"y":0.98413},{"p":6,"x":2.709,"y":0.98429},{"p":6,"x":2.732,"y":0.98383},{"p":6,"x":2.756,"y":0.98347},{"p":6,"x":2.786,"y":0.98246},{"p":6,"x":2.816,"y":0.98195},{"p":6,"x":2.845,"y":0.98216},{"p":6,"x":2.881,"y":0.98237},{"p":6,"x":2.905,"y":0.98049},{"p":6,"x":2.926,"y":0.97921},{"p":6,"x":2.955,"y":0.9817},{"p":6,"x":2.985,"y":0.98185},{"p":6,"x":3.015,"y":0.98201},{"p":6,"x":3.045,"y":0.98146},
{"p":7,"x":0.0,"y":0.98293},{"p":7,"x":0.031,"y":0.98266},{"p":7,"x":0.062,"y":0.98386},{"p":7,"x":0.092,"y":0.98412},{"p":7,"x":0.114,"y":0.98226},{"p":7,"x":0.129,"y":0.98359},{"p":7,"x":0.16,"y":0.98346},{"p":7,"x":0.191,"y":0.98332},{"p":7,"x":0.209,"y":0.98173},{"p":7,"x":0.234,"y":0.98505},{"p":7,"x":0.258,"y":0.98319},{"p":7,"x":0.277,"y":0.98146},{"p":7,"x":0.298,"y":0.98},{"p":7,"x":0.32,"y":0.98173},{"p":7,"x":0.351,"y":0.98226},{"p":7,"x":0.382,"y":0.98247},{"p":7,"x":0.412,"y":0.98319},{"p":7,"x":0.431,"y":0.9816},{"p":7,"x":0.462,"y":0.98293},{"p":7,"x":0.483,"y":0.98066},{"p":7,"x":0.514,"y":0.98093},{"p":7,"x":0.545,"y":0.98152},{"p":7,"x":0.582,"y":0.98186},{"p":7,"x":0.606,"y":0.98093},{"p":7,"x":0.637,"y":0.98027},{"p":7,"x":0.662,"y":0.97899},{"p":7,"x":0.698,"y":0.97806},{"p":7,"x":0.72,"y":0.97747},{"p":7,"x":0.738,"y":0.97747},{"p":7,"x":0.763,"y":0.97694},{"p":7,"x":0.782,"y":0.97495},{"p":7,"x":0.806,"y":0.97588},{"p":7,"x":0.822,"y":0.97601},{"p":7,"x":0.837,"y":0.97774},{"p":7,"x":0.862,"y":0.97854},{"p":7,"x":0.88,"y":0.97886},{"p":7,"x":0.905,"y":0.97939},{"p":7,"x":0.929,"y":0.98053},{"p":7,"x":0.951,"y":0.97894},{"p":7,"x":0.985,"y":0.97907},{"p":7,"x":1.006,"y":0.97947},{"p":7,"x":1.015,"y":0.97832},{"p":7,"x":1.034,"y":0.98093},{"p":7,"x":1.068,"y":0.9816},{"p":7,"x":1.098,"y":0.98106},{"p":7,"x":1.129,"y":0.98293},{"p":7,"x":1.16,"y":0.98399},{"p":7,"x":1.197,"y":0.98505},{"p":7,"x":1.231,"y":0.98497},{"p":7,"x":1.258,"y":0.98412},{"p":7,"x":1.283,"y":0.98452},{"p":7,"x":1.305,"y":0.98354},{"p":7,"x":1.329,"y":0.9838},{"p":7,"x":1.36,"y":0.98279},{"p":7,"x":1.385,"y":0.98133},{"p":7,"x":1.422,"y":0.98133},{"p":7,"x":1.458,"y":0.98186},{"p":7,"x":1.498,"y":0.98306},{"p":7,"x":1.545,"y":0.98399},{"p":7,"x":1.591,"y":0.98439},{"p":7,"x":1.612,"y":0.98572},{"p":7,"x":1.631,"y":0.98519},{"p":7,"x":1.652,"y":0.98559},{"p":7,"x":1.692,"y":0.9855},{"p":7,"x":1.714,"y":0.98532},{"p":7,"x":1.729,"y":0.98418},{"p":7,"x":1.748,"y":0.98705},{"p":7,"x":1.775,"y":0.98718},{"p":7,"x":1.806,"y":0.98678},{"p":7,"x":1.828,"y":0.9863},{"p":7,"x":1.851,"y":0.98545},{"p":7,"x":1.877,"y":0.98652},{"p":7,"x":1.908,"y":0.9862},{"p":7,"x":1.938,"y":0.98572},{"p":7,"x":1.96,"y":0.98638},{"p":7,"x":1.982,"y":0.98492},{"p":7,"x":2.006,"y":0.98279},{"p":7,"x":2.043,"y":0.98093},{"p":7,"x":2.077,"y":0.97947},{"p":7,"x":2.098,"y":0.9796},{"p":7,"x":2.12,"y":0.98186},{"p":7,"x":2.145,"y":0.98239},{"p":7,"x":2.166,"y":0.98293},{"p":7,"x":2.185,"y":0.98093},{"p":7,"x":2.206,"y":0.97947},{"p":7,"x":2.222,"y":0.97886},{"p":7,"x":2.237,"y":0.97769},{"p":7,"x":2.252,"y":0.97894},{"p":7,"x":2.277,"y":0.9788},{"p":7,"x":2.302,"y":0.97827},{"p":7,"x":2.32,"y":0.98066},{"p":7,"x":2.345,"y":0.98253},{"p":7,"x":2.375,"y":0.98346},{"p":7,"x":2.406,"y":0.98412},{"p":7,"x":2.431,"y":0.98572},{"p":7,"x":2.452,"y":0.98737},{"p":7,"x":2.483,"y":0.98652},{"p":7,"x":2.514,"y":0.98519},{"p":7,"x":2.535,"y":0.98399},{"p":7,"x":2.56,"y":0.9862},{"p":7,"x":2.591,"y":0.98465},{"p":7,"x":2.615,"y":0.98426},{"p":7,"x":2.637,"y":0.98359},{"p":7,"x":2.658,"y":0.98247},{"p":7,"x":2.683,"y":0.98311},{"p":7,"x":2.708,"y":0.98239},{"p":7,"x":2.738,"y":0.98199},{"p":7,"x":2.775,"y":0.98205},{"p":7,"x":2.806,"y":0.98239},{"p":7,"x":2.831,"y":0.98093},{"p":7,"x":2.852,"y":0.97947},{"p":7,"x":2.883,"y":0.9792},{"p":7,"x":2.905,"y":0.9812},{"p":7,"x":2.945,"y":0.98146},{"p":7,"x":2.985,"y":0.98186},{"p":7,"x":3.006,"y":0.98053},{"p":7,"x":3.037,"y":0.9804},{"p":7,"x":3.062,"y":0.98},{"p":7,"x":3.083,"y":0.97934},{"p":7,"x":3.105,"y":0.97907},{"p":7,"x":3.129,"y":0.98},{"p":7,"x":3.151,"y":0.98098},
{"p":8,"x":0.006,"y":0.98518},{"p":8,"x":0.036,"y":0.98472},{"p":8,"x":0.065,"y":0.98437},{"p":8,"x":0.104,"y":0.98291},{"p":8,"x":0.139,"y":0.98189},{"p":8,"x":0.178,"y":0.98233},{"p":8,"x":0.213,"y":0.98306},{"p":8,"x":0.237,"y":0.98646},{"p":8,"x":0.258,"y":0.98495},{"p":8,"x":0.291,"y":0.98422},{"p":8,"x":0.32,"y":0.98373},{"p":8,"x":0.356,"y":0.98349},{"p":8,"x":0.385,"y":0.98326},{"p":8,"x":0.415,"y":0.98175},{"p":8,"x":0.445,"y":0.98023},{"p":8,"x":0.474,"y":0.98044},{"p":8,"x":0.51,"y":0.98082},{"p":8,"x":0.54,"y":0.98146},{"p":8,"x":0.569,"y":0.98218},{"p":8,"x":0.593,"y":0.98151},{"p":8,"x":0.623,"y":0.98102},{"p":8,"x":0.652,"y":0.98073},{"p":8,"x":0.676,"y":0.98058},{"p":8,"x":0.712,"y":0.98087},{"p":8,"x":0.741,"y":0.98204},{"p":8,"x":0.771,"y":0.9832},{"p":8,"x":0.806,"y":0.98384},{"p":8,"x":0.836,"y":0.98495},{"p":8,"x":0.86,"y":0.98655},{"p":8,"x":0.883,"y":0.98844},{"p":8,"x":0.907,"y":0.98908},{"p":8,"x":0.925,"y":0.98742},{"p":8,"x":0.955,"y":0.98699},{"p":8,"x":0.993,"y":0.98646},{"p":8,"x":1.014,"y":0.98495},{"p":8,"x":1.032,"y":0.98373},{"p":8,"x":1.052,"y":0.98472},{"p":8,"x":1.091,"y":0.98466},{"p":8,"x":1.121,"y":0.9853},{"p":8,"x":1.156,"y":0.98588},{"p":8,"x":1.18,"y":0.98539},{"p":8,"x":1.21,"y":0.98568},{"p":8,"x":1.239,"y":0.9853},{"p":8,"x":1.26,"y":0.98635},{"p":8,"x":1.281,"y":0.98684},{"p":8,"x":1.304,"y":0.98792},{"p":8,"x":1.328,"y":0.98553},{"p":8,"x":1.358,"y":0.98539},{"p":8,"x":1.382,"y":0.98408},{"p":8,"x":1.417,"y":0.98442},{"p":8,"x":1.453,"y":0.9848},{"p":8,"x":1.482,"y":0.98635},{"p":8,"x":1.512,"y":0.9864},{"p":8,"x":1.542,"y":0.98771},{"p":8,"x":1.571,"y":0.9867},{"p":8,"x":1.601,"y":0.98588},{"p":8,"x":1.631,"y":0.98539},{"p":8,"x":1.66,"y":0.98373},{"p":8,"x":1.696,"y":0.9816},{"p":8,"x":1.72,"y":0.98466},{"p":8,"x":1.749,"y":0.98437},{"p":8,"x":1.779,"y":0.98413},{"p":8,"x":1.803,"y":0.98306},{"p":8,"x":1.823,"y":0.98408},{"p":8,"x":1.844,"y":0.98306},{"p":8,"x":1.874,"y":0.98373},{"p":8,"x":1.903,"y":0.98422},{"p":8,"x":1.933,"y":0.9848},{"p":8,"x":1.962,"y":0.98626},{"p":8,"x":1.986,"y":0.9848},{"p":8,"x":2.016,"y":0.98472},{"p":8,"x":2.045,"y":0.98451},{"p":8,"x":2.075,"y":0.98422},{"p":8,"x":2.099,"y":0.98349},{"p":8,"x":2.12,"y":0.98146},{"p":8,"x":2.14,"y":0.97965},{"p":8,"x":2.164,"y":0.97854},{"p":8,"x":2.185,"y":0.97773},{"p":8,"x":2.223,"y":0.97723},{"p":8,"x":2.253,"y":0.97703},{"p":8,"x":2.268,"y":0.97607},{"p":8,"x":2.298,"y":0.97578},{"p":8,"x":2.342,"y":0.97461},{"p":8,"x":2.387,"y":0.97374},{"p":8,"x":2.41,"y":0.97272},{"p":8,"x":2.431,"y":0.97447},{"p":8,"x":2.455,"y":0.97622},{"p":8,"x":2.49,"y":0.9786},{"p":8,"x":2.52,"y":0.97869},{"p":8,"x":2.558,"y":0.9786},{"p":8,"x":2.585,"y":0.97942},{"p":8,"x":2.609,"y":0.97965},{"p":8,"x":2.639,"y":0.98131},{"p":8,"x":2.668,"y":0.98227},{"p":8,"x":2.698,"y":0.98256},{"p":8,"x":2.727,"y":0.98189},{"p":8,"x":2.757,"y":0.98029},{"p":8,"x":2.787,"y":0.97849},{"p":8,"x":2.822,"y":0.98146},{"p":8,"x":2.852,"y":0.9832},{"p":8,"x":2.876,"y":0.98218},{"p":8,"x":2.905,"y":0.98306},{"p":8,"x":2.935,"y":0.98437},{"p":8,"x":2.965,"y":0.98489},{"p":8,"x":2.994,"y":0.98472},{"p":8,"x":3.03,"y":0.98442}
],
"marks": [
{"p":1,"x":0.013,"y":0.97788,"c":"red"},{"p":1,"x":0.225,"y":0.97875,"c":"red"},{"p":1,"x":0.241,"y":0.97826,"c":"red"},{"p":1,"x":0.256,"y":0.97772,"c":"red"},{"p":1,"x":0.275,"y":0.97726,"c":"red"},{"p":1,"x":0.281,"y":0.97568,"c":"red"},{"p":1,"x":0.297,"y":0.97726,"c":"red"},{"p":1,"x":0.35,"y":0.97568,"c":"red"},{"p":1,"x":0.369,"y":0.97435,"c":"red"},{"p":1,"x":0.384,"y":0.97807,"c":"red"},{"p":1,"x":0.4,"y":0.97788,"c":"red"},{"p":1,"x":0.491,"y":0.97861,"c":"red"},{"p":1,"x":0.5,"y":0.9778,"c":"red"},{"p":1,"x":0.519,"y":0.97739,"c":"red"},{"p":1,"x":0.563,"y":0.97826,"c":"red"},{"p":1,"x":0.581,"y":0.97807,"c":"red"},{"p":1,"x":0.6,"y":0.97731,"c":"red"},{"p":1,"x":1.153,"y":0.9763,"c":"red"},{"p":1,"x":1.166,"y":0.97883,"c":"red"},
{"p":1,"x":0.419,"y":0.97889,"c":"blue"},{"p":1,"x":0.616,"y":0.97954,"c":"blue"},{"p":1,"x":0.631,"y":0.97962,"c":"blue"},{"p":1,"x":0.684,"y":0.97957,"c":"blue"},{"p":1,"x":2.381,"y":0.97938,"c":"blue"},{"p":1,"x":2.4,"y":0.97897,"c":"blue"},{"p":1,"x":3.2,"y":0.97886,"c":"blue"},
{"p":2,"x":0.006,"y":0.97718,"c":"red"},{"p":2,"x":0.957,"y":0.97812,"c":"red"},{"p":2,"x":0.973,"y":0.97737,"c":"red"},{"p":2,"x":0.997,"y":0.97718,"c":"red"},{"p":2,"x":1.021,"y":0.97544,"c":"red"},{"p":2,"x":1.088,"y":0.97497,"c":"red"},{"p":2,"x":1.11,"y":0.9748,"c":"red"},{"p":2,"x":1.137,"y":0.9782,"c":"red"},{"p":2,"x":1.463,"y":0.97856,"c":"red"},{"p":2,"x":1.491,"y":0.97682,"c":"red"},{"p":2,"x":1.54,"y":0.97646,"c":"red"},{"p":2,"x":1.582,"y":0.97414,"c":"red"},{"p":2,"x":1.601,"y":0.97461,"c":"red"},{"p":2,"x":1.622,"y":0.97613,"c":"red"},{"p":2,"x":3.137,"y":0.97737,"c":"red"},
{"p":2,"x":0.113,"y":0.97945,"c":"blue"},{"p":2,"x":0.183,"y":0.97923,"c":"blue"},{"p":2,"x":0.402,"y":0.9795,"c":"blue"},{"p":2,"x":0.579,"y":0.97959,"c":"blue"},{"p":2,"x":0.64,"y":0.97959,"c":"blue"},{"p":2,"x":0.93,"y":0.97928,"c":"blue"},{"p":2,"x":1.159,"y":0.97917,"c":"blue"},{"p":2,"x":1.393,"y":0.97959,"c":"blue"},{"p":2,"x":1.439,"y":0.9795,"c":"blue"},{"p":2,"x":1.646,"y":0.97917,"c":"blue"},{"p":2,"x":2.512,"y":0.97917,"c":"blue"},{"p":2,"x":2.537,"y":0.97917,"c":"blue"},
{"p":3,"x":0.013,"y":0.9792,"c":"blue"},{"p":3,"x":0.294,"y":0.97962,"c":"blue"},{"p":3,"x":0.484,"y":0.9792,"c":"blue"},{"p":3,"x":1.903,"y":0.97945,"c":"blue"},{"p":3,"x":1.928,"y":0.97957,"c":"blue"},{"p":3,"x":2.403,"y":0.9789,"c":"blue"},{"p":3,"x":3.184,"y":0.97937,"c":"blue"},{"p":3,"x":3.2,"y":0.97882,"c":"blue"},
{"p":3,"x":0.278,"y":0.97832,"c":"red"},{"p":3,"x":0.366,"y":0.97807,"c":"red"},{"p":3,"x":1.15,"y":0.97649,"c":"red"},{"p":3,"x":1.166,"y":0.97857,"c":"red"},
{"p":4,"x":0.006,"y":0.97951,"c":"blue"},{"p":4,"x":0.418,"y":0.97945,"c":"blue"},{"p":4,"x":1.265,"y":0.97938,"c":"blue"},{"p":4,"x":2.402,"y":0.97977,"c":"blue"},{"p":4,"x":2.555,"y":0.97945,"c":"blue"},
{"p":4,"x":0.973,"y":0.97783,"c":"red"},{"p":4,"x":1.006,"y":0.97848,"c":"red"},{"p":4,"x":1.021,"y":0.97604,"c":"red"},{"p":4,"x":1.095,"y":0.97588,"c":"red"},{"p":4,"x":1.113,"y":0.97653,"c":"red"},{"p":4,"x":1.134,"y":0.97783,"c":"red"},{"p":4,"x":1.159,"y":0.97815,"c":"red"},{"p":4,"x":1.18,"y":0.97766,"c":"red"},{"p":4,"x":1.247,"y":0.97539,"c":"red"},{"p":4,"x":1.332,"y":0.97831,"c":"red"},{"p":4,"x":1.402,"y":0.97556,"c":"red"},{"p":4,"x":1.418,"y":0.97702,"c":"red"},{"p":4,"x":1.439,"y":0.97556,"c":"red"},{"p":4,"x":1.463,"y":0.97264,"c":"red"},{"p":4,"x":1.491,"y":0.97118,"c":"red"},{"p":4,"x":1.552,"y":0.97231,"c":"red"},{"p":4,"x":1.576,"y":0.96955,"c":"red"},{"p":4,"x":1.598,"y":0.9702,"c":"red"},{"p":4,"x":1.622,"y":0.9715,"c":"red"},{"p":4,"x":1.643,"y":0.97507,"c":"red"},{"p":4,"x":1.713,"y":0.9754,"c":"red"},{"p":4,"x":1.759,"y":0.97459,"c":"red"},{"p":4,"x":1.78,"y":0.97556,"c":"red"},{"p":4,"x":1.799,"y":0.97637,"c":"red"},{"p":4,"x":1.82,"y":0.97595,"c":"red"},{"p":4,"x":1.881,"y":0.97724,"c":"red"},{"p":4,"x":1.912,"y":0.97734,"c":"red"},{"p":4,"x":2.439,"y":0.97815,"c":"red"},{"p":4,"x":2.46,"y":0.97783,"c":"red"},{"p":4,"x":2.506,"y":0.97766,"c":"red"},{"p":4,"x":2.53,"y":0.97854,"c":"red"},{"p":4,"x":3.137,"y":0.97848,"c":"red"},
{"p":5,"x":0.174,"y":0.97815,"c":"red"},{"p":5,"x":0.199,"y":0.97783,"c":"red"},{"p":5,"x":0.236,"y":0.9787,"c":"red"},{"p":5,"x":1.469,"y":0.9775,"c":"red"},{"p":5,"x":2.118,"y":0.97733,"c":"red"},{"p":5,"x":2.164,"y":0.97645,"c":"red"},{"p":5,"x":2.231,"y":0.97858,"c":"red"},
{"p":5,"x":0.404,"y":0.97975,"c":"blue"},{"p":5,"x":0.416,"y":0.97883,"c":"blue"},{"p":5,"x":1.031,"y":0.9792,"c":"blue"},{"p":5,"x":1.276,"y":0.97945,"c":"blue"},{"p":5,"x":1.975,"y":0.97903,"c":"blue"},{"p":5,"x":1.996,"y":0.97883,"c":"blue"},{"p":5,"x":2.051,"y":0.97908,"c":"blue"},{"p":5,"x":2.179,"y":0.97895,"c":"blue"},{"p":5,"x":2.198,"y":0.9797,"c":"blue"},{"p":5,"x":2.28,"y":0.97883,"c":"blue"},
{"p":6,"x":0.113,"y":0.97836,"c":"red"},{"p":6,"x":0.154,"y":0.97821,"c":"red"},{"p":6,"x":1.025,"y":0.97821,"c":"red"},{"p":6,"x":1.812,"y":0.97866,"c":"red"},{"p":6,"x":1.841,"y":0.9769,"c":"red"},{"p":6,"x":1.886,"y":0.97522,"c":"red"},{"p":6,"x":1.951,"y":0.97699,"c":"red"},{"p":6,"x":1.969,"y":0.97556,"c":"red"},{"p":6,"x":1.99,"y":0.97495,"c":"red"},{"p":6,"x":2.014,"y":0.97471,"c":"red"},{"p":6,"x":2.079,"y":0.97447,"c":"red"},{"p":6,"x":2.115,"y":0.97222,"c":"red"},{"p":6,"x":2.153,"y":0.97152,"c":"red"},{"p":6,"x":2.174,"y":0.97426,"c":"red"},{"p":6,"x":2.242,"y":0.97395,"c":"red"},{"p":6,"x":2.263,"y":0.97517,"c":"red"},{"p":6,"x":2.287,"y":0.97775,"c":"red"},{"p":6,"x":2.31,"y":0.97502,"c":"red"},{"p":6,"x":2.415,"y":0.97395,"c":"red"},{"p":6,"x":2.441,"y":0.97471,"c":"red"},
{"p":6,"x":0.956,"y":0.97973,"c":"blue"},{"p":6,"x":2.926,"y":0.97921,"c":"blue"},
{"p":7,"x":0.662,"y":0.97899,"c":"blue"},{"p":7,"x":0.905,"y":0.97939,"c":"blue"},{"p":7,"x":1.006,"y":0.97947,"c":"blue"},{"p":7,"x":2.077,"y":0.97947,"c":"blue"},{"p":7,"x":2.222,"y":0.97886,"c":"blue"},{"p":7,"x":2.252,"y":0.97894,"c":"blue"},{"p":7,"x":2.852,"y":0.97947,"c":"blue"},{"p":7,"x":2.883,"y":0.9792,"c":"blue"},{"p":7,"x":3.105,"y":0.97907,"c":"blue"},
{"p":7,"x":0.698,"y":0.97806,"c":"red"},{"p":7,"x":0.72,"y":0.97747,"c":"red"},{"p":7,"x":0.763,"y":0.97694,"c":"red"},{"p":7,"x":0.782,"y":0.97495,"c":"red"},{"p":7,"x":0.822,"y":0.97601,"c":"red"},{"p":7,"x":0.837,"y":0.97774,"c":"red"},{"p":7,"x":0.88,"y":0.97886,"c":"red"},{"p":7,"x":0.951,"y":0.97894,"c":"red"},{"p":7,"x":1.015,"y":0.97832,"c":"red"},{"p":7,"x":2.237,"y":0.97769,"c":"red"},{"p":7,"x":2.302,"y":0.97827,"c":"red"},
{"p":8,"x":2.14,"y":0.97965,"c":"blue"},{"p":8,"x":2.585,"y":0.97942,"c":"blue"},{"p":8,"x":2.609,"y":0.97965,"c":"blue"},
{"p":8,"x":2.185,"y":0.97773,"c":"red"},{"p":8,"x":2.253,"y":0.97703,"c":"red"},{"p":8,"x":2.268,"y":0.97607,"c":"red"},{"p":8,"x":2.298,"y":0.97578,"c":"red"},{"p":8,"x":2.387,"y":0.97374,"c":"red"},{"p":8,"x":2.41,"y":0.97272,"c":"red"},{"p":8,"x":2.431,"y":0.97447,"c":"red"},{"p":8,"x":2.455,"y":0.97622,"c":"red"},{"p":8,"x":2.49,"y":0.9786,"c":"red"},{"p":8,"x":2.558,"y":0.9786,"c":"red"},{"p":8,"x":2.787,"y":0.97849,"c":"red"}
]
},
"hconcat": [
{"spacing": 69.45, "vconcat": [
 {"spacing": 25.85, "vconcat": [
  {"width": 413, "height": 325, "title": {"text": "BTC - precovid19 (m=5 - GARCH)", "fontSize": 20, "offset": -8.5},
   "resolve": {"axis": {"x": "independent", "y": "independent"}},
   "layer": [
    {"data": {"name": "lines"}, "transform": [{"filter": "datum.p == 1"}], "mark": {"type": "line", "color": "#000000", "strokeWidth": 2.2},
     "encoding": {"x": {"field": "x", "type": "quantitative", "title": null, "scale": {"domain": [-0.166, 3.372], "nice": false, "zero": false}, "axis": {"values": [0,1,2,3], "labelExpr": "['May.19','Jul.19','Sep.19','Nov.19'][datum.value]", "labelFontSize": 19.5, "labelPadding": 16.5}},
      "y": {"field": "y", "type": "quantitative", "title": "Permutation entropy (normalized)", "scale": {"domain": [0.97345, 1], "nice": false, "zero": false}, "axis": {"values": [0.98, 0.99, 1], "format": ".2~f", "labelFontSize": 19.5, "labelPadding": 8.6, "titleFontSize": 21, "titlePadding": 8.2}}}},
    {"data": {"name": "marks"}, "transform": [{"filter": "datum.p == 1"}], "mark": {"type": "point", "shape": "diamond", "filled": true, "size": 60, "opacity": 1},
     "encoding": {"x": {"field": "x", "type": "quantitative", "title": null, "axis": {"orient": "top", "labels": false, "values": [0,1,2,3]}}, "y": {"field": "y", "type": "quantitative", "title": null, "axis": {"orient": "right", "labels": false, "values": [0.98, 0.99, 1]}}, "color": {"field": "c", "type": "nominal", "scale": {"domain": ["red", "blue"], "range": ["#f00000", "#0018c8"]}, "legend": null}}}
   ]},
  {"width": 413, "height": 325, "title": {"text": "BTC - precovid19 (m=5)", "fontSize": 20, "offset": -8.5},
   "resolve": {"axis": {"x": "independent", "y": "independent"}},
   "layer": [
    {"data": {"name": "lines"}, "transform": [{"filter": "datum.p == 3"}], "mark": {"type": "line", "color": "#000000", "strokeWidth": 2.2},
     "encoding": {"x": {"field": "x", "type": "quantitative", "title": null, "scale": {"domain": [-0.166, 3.372], "nice": false, "zero": false}, "axis": {"values": [0,1,2,3], "labelExpr": "['May.19','Jul.19','Sep.19','Nov.19'][datum.value]", "labelFontSize": 19.5, "labelPadding": 16.5}},
      "y": {"field": "y", "type": "quantitative", "title": "Permutation entropy (normalized)", "scale": {"domain": [0.97562, 1], "nice": false, "zero": false}, "axis": {"values": [0.98, 0.99, 1], "format": ".2~f", "labelFontSize": 19.5, "labelPadding": 8.6, "titleFontSize": 21, "titlePadding": 8.2}}}},
    {"data": {"name": "marks"}, "transform": [{"filter": "datum.p == 3"}], "mark": {"type": "point", "shape": "diamond", "filled": true, "size": 60, "opacity": 1},
     "encoding": {"x": {"field": "x", "type": "quantitative", "title": null, "axis": {"orient": "top", "labels": false, "values": [0,1,2,3]}}, "y": {"field": "y", "type": "quantitative", "title": null, "axis": {"orient": "right", "labels": false, "values": [0.98, 0.99, 1]}}, "color": {"field": "c", "type": "nominal", "scale": {"domain": ["red", "blue"], "range": ["#f00000", "#0018c8"]}, "legend": null}}}
   ]}
 ]},
 {"spacing": 23.55, "vconcat": [
  {"width": 413, "height": 325, "title": {"text": "DXY \u00a0- precovid19 (m=5 - GARCH)", "fontSize": 20, "offset": -8.5},
   "resolve": {"axis": {"x": "independent", "y": "independent"}},
   "layer": [
    {"data": {"name": "lines"}, "transform": [{"filter": "datum.p == 5"}], "mark": {"type": "line", "color": "#000000", "strokeWidth": 2.2},
     "encoding": {"x": {"field": "x", "type": "quantitative", "title": null, "scale": {"domain": [-0.162, 3.306], "nice": false, "zero": false}, "axis": {"values": [0,1,2,3], "labelExpr": "['May.19','Jul.19','Sep.19','Nov.19'][datum.value]", "labelFontSize": 19.5, "labelPadding": 16.5}},
      "y": {"field": "y", "type": "quantitative", "title": "Permutation entropy (normalized)", "scale": {"domain": [0.9755, 1], "nice": false, "zero": false}, "axis": {"values": [0.98, 0.99, 1], "format": ".2~f", "labelFontSize": 19.5, "labelPadding": 8.6, "titleFontSize": 21, "titlePadding": 8.2}}}},
    {"data": {"name": "marks"}, "transform": [{"filter": "datum.p == 5"}], "mark": {"type": "point", "shape": "diamond", "filled": true, "size": 60, "opacity": 1},
     "encoding": {"x": {"field": "x", "type": "quantitative", "title": null, "axis": {"orient": "top", "labels": false, "values": [0,1,2,3]}}, "y": {"field": "y", "type": "quantitative", "title": null, "axis": {"orient": "right", "labels": false, "values": [0.98, 0.99, 1]}}, "color": {"field": "c", "type": "nominal", "scale": {"domain": ["red", "blue"], "range": ["#f00000", "#0018c8"]}, "legend": null}}}
   ]},
  {"width": 413, "height": 325, "title": {"text": "DXY \u00a0- precovid19 (m=5)", "fontSize": 20, "offset": -8.5},
   "resolve": {"axis": {"x": "independent", "y": "independent"}},
   "layer": [
    {"data": {"name": "lines"}, "transform": [{"filter": "datum.p == 7"}], "mark": {"type": "line", "color": "#000000", "strokeWidth": 2.2},
     "encoding": {"x": {"field": "x", "type": "quantitative", "title": null, "scale": {"domain": [-0.169, 3.323], "nice": false, "zero": false}, "axis": {"values": [0,1,2,3], "labelExpr": "['May.19','Jul.19','Sep.19','Nov.19'][datum.value]", "labelFontSize": 19.5, "labelPadding": 16.5}},
      "y": {"field": "y", "type": "quantitative", "title": "Permutation entropy (normalized)", "scale": {"domain": [0.97401, 1], "nice": false, "zero": false}, "axis": {"values": [0.98, 0.99, 1], "format": ".2~f", "labelFontSize": 19.5, "labelPadding": 8.6, "titleFontSize": 21, "titlePadding": 8.2}}}},
    {"data": {"name": "marks"}, "transform": [{"filter": "datum.p == 7"}], "mark": {"type": "point", "shape": "diamond", "filled": true, "size": 60, "opacity": 1},
     "encoding": {"x": {"field": "x", "type": "quantitative", "title": null, "axis": {"orient": "top", "labels": false, "values": [0,1,2,3]}}, "y": {"field": "y", "type": "quantitative", "title": null, "axis": {"orient": "right", "labels": false, "values": [0.98, 0.99, 1]}}, "color": {"field": "c", "type": "nominal", "scale": {"domain": ["red", "blue"], "range": ["#f00000", "#0018c8"]}, "legend": null}}}
   ]}
 ]}
]},
{"spacing": 62.45, "vconcat": [
 {"spacing": 18.65, "vconcat": [
  {"width": 427, "height": 322, "title": {"text": "BTC - covid19 (m=5 - GARCH)", "fontSize": 22, "offset": -3.5},
   "resolve": {"axis": {"x": "independent", "y": "independent"}},
   "layer": [
    {"data": {"name": "lines"}, "transform": [{"filter": "datum.p == 2"}], "mark": {"type": "line", "color": "#000000", "strokeWidth": 2.2},
     "encoding": {"x": {"field": "x", "type": "quantitative", "title": null, "scale": {"domain": [-0.213, 3.354], "nice": false, "zero": false}, "axis": {"values": [0,1,2,3], "labelExpr": "['Dec.19','Feb.20','Mar.20','May.20'][datum.value]", "labelFontSize": 20.5, "labelPadding": 17.2}},
      "y": {"field": "y", "type": "quantitative", "title": "Permutation entropy (normalized)", "scale": {"domain": [0.97323, 1], "nice": false, "zero": false}, "axis": {"values": [0.98, 0.99, 1], "format": ".2~f", "labelFontSize": 20.5, "labelPadding": 13.4, "titleFontSize": 22.6, "titlePadding": 5.3}}}},
    {"data": {"name": "marks"}, "transform": [{"filter": "datum.p == 2"}], "mark": {"type": "point", "shape": "diamond", "filled": true, "size": 60, "opacity": 1},
     "encoding": {"x": {"field": "x", "type": "quantitative", "title": null, "axis": {"orient": "top", "labels": false, "values": [0,1,2,3]}}, "y": {"field": "y", "type": "quantitative", "title": null, "axis": {"orient": "right", "labels": false, "values": [0.98, 0.99, 1]}}, "color": {"field": "c", "type": "nominal", "scale": {"domain": ["red", "blue"], "range": ["#f00000", "#0018c8"]}, "legend": null}}}
   ]},
  {"width": 427, "height": 322, "title": {"text": "BTC - covid19 (m=5)", "fontSize": 22, "offset": -3.5},
   "resolve": {"axis": {"x": "independent", "y": "independent"}},
   "layer": [
    {"data": {"name": "lines"}, "transform": [{"filter": "datum.p == 4"}], "mark": {"type": "line", "color": "#000000", "strokeWidth": 2.2},
     "encoding": {"x": {"field": "x", "type": "quantitative", "title": null, "scale": {"domain": [-0.213, 3.354], "nice": false, "zero": false}, "axis": {"values": [0,1,2,3], "labelExpr": "['Dec.19','Feb.20','Mar.20','May.20'][datum.value]", "labelFontSize": 20.5, "labelPadding": 17.2}},
      "y": {"field": "y", "type": "quantitative", "title": "Permutation entropy (normalized)", "scale": {"domain": [0.96874, 1], "nice": false, "zero": false}, "axis": {"values": [0.97, 0.98, 0.99, 1], "format": ".2~f", "labelFontSize": 20.5, "labelPadding": 13.4, "titleFontSize": 22.6, "titlePadding": 5.3}}}},
    {"data": {"name": "marks"}, "transform": [{"filter": "datum.p == 4"}], "mark": {"type": "point", "shape": "diamond", "filled": true, "size": 60, "opacity": 1},
     "encoding": {"x": {"field": "x", "type": "quantitative", "title": null, "axis": {"orient": "top", "labels": false, "values": [0,1,2,3]}}, "y": {"field": "y", "type": "quantitative", "title": null, "axis": {"orient": "right", "labels": false, "values": [0.97, 0.98, 0.99, 1]}}, "color": {"field": "c", "type": "nominal", "scale": {"domain": ["red", "blue"], "range": ["#f00000", "#0018c8"]}, "legend": null}}}
   ]}
 ]},
 {"spacing": 17.65, "vconcat": [
  {"width": 427, "height": 322, "title": {"text": "DXY \u00a0- covid19 (m=5 - GARCH)", "fontSize": 22, "offset": -3.5},
   "resolve": {"axis": {"x": "independent", "y": "independent"}},
   "layer": [
    {"data": {"name": "lines"}, "transform": [{"filter": "datum.p == 6"}], "mark": {"type": "line", "color": "#000000", "strokeWidth": 2.2},
     "encoding": {"x": {"field": "x", "type": "quantitative", "title": null, "scale": {"domain": [-0.214, 3.261], "nice": false, "zero": false}, "axis": {"values": [0,1,2,3], "labelExpr": "['Dec.19','Feb.20','Mar.20','May.20'][datum.value]", "labelFontSize": 20.5, "labelPadding": 17.2}},
      "y": {"field": "y", "type": "quantitative", "title": "Permutation entropy (normalized)", "scale": {"domain": [0.97054, 1], "nice": false, "zero": false}, "axis": {"values": [0.98, 0.99, 1], "format": ".2~f", "labelFontSize": 20.5, "labelPadding": 13.4, "titleFontSize": 22.6, "titlePadding": 5.3}}}},
    {"data": {"name": "marks"}, "transform": [{"filter": "datum.p == 6"}], "mark": {"type": "point", "shape": "diamond", "filled": true, "size": 60, "opacity": 1},
     "encoding": {"x": {"field": "x", "type": "quantitative", "title": null, "axis": {"orient": "top", "labels": false, "values": [0,1,2,3]}}, "y": {"field": "y", "type": "quantitative", "title": null, "axis": {"orient": "right", "labels": false, "values": [0.98, 0.99, 1]}}, "color": {"field": "c", "type": "nominal", "scale": {"domain": ["red", "blue"], "range": ["#f00000", "#0018c8"]}, "legend": null}}}
   ]},
  {"width": 427, "height": 322, "title": {"text": "DXY \u00a0- covid19 (m=5)", "fontSize": 22, "offset": -3.5},
   "resolve": {"axis": {"x": "independent", "y": "independent"}},
   "layer": [
    {"data": {"name": "lines"}, "transform": [{"filter": "datum.p == 8"}], "mark": {"type": "line", "color": "#000000", "strokeWidth": 2.2},
     "encoding": {"x": {"field": "x", "type": "quantitative", "title": null, "scale": {"domain": [-0.222, 3.246], "nice": false, "zero": false}, "axis": {"values": [0,1,2,3], "labelExpr": "['Dec.19','Feb.20','Mar.20','May.20'][datum.value]", "labelFontSize": 20.5, "labelPadding": 17.2}},
      "y": {"field": "y", "type": "quantitative", "title": "Permutation entropy (normalized)", "scale": {"domain": [0.97194, 1], "nice": false, "zero": false}, "axis": {"values": [0.98, 0.99, 1], "format": ".2~f", "labelFontSize": 20.5, "labelPadding": 13.4, "titleFontSize": 22.6, "titlePadding": 5.3}}}},
    {"data": {"name": "marks"}, "transform": [{"filter": "datum.p == 8"}], "mark": {"type": "point", "shape": "diamond", "filled": true, "size": 60, "opacity": 1},
     "encoding": {"x": {"field": "x", "type": "quantitative", "title": null, "axis": {"orient": "top", "labels": false, "values": [0,1,2,3]}}, "y": {"field": "y", "type": "quantitative", "title": null, "axis": {"orient": "right", "labels": false, "values": [0.98, 0.99, 1]}}, "color": {"field": "c", "type": "nominal", "scale": {"domain": ["red", "blue"], "range": ["#f00000", "#0018c8"]}, "legend": null}}}
   ]}
 ]}
]}
],
"config": {
 "view": {"stroke": "#4a4a4a", "strokeWidth": 1},
 "axis": {"grid": false, "domain": false, "labelFont": "Liberation Sans", "titleFont": "Liberation Sans", "labelColor": "#333333", "titleColor": "#333333", "titleFontWeight": "normal", "tickColor": "#4a4a4a", "tickSize": -5, "tickWidth": 1, "labelFlush": false, "labelOverlap": false, "labelAngle": 0},
 "title": {"font": "Liberation Sans", "fontWeight": "bold", "color": "#000000", "anchor": "middle", "frame": "group"}
}
}
